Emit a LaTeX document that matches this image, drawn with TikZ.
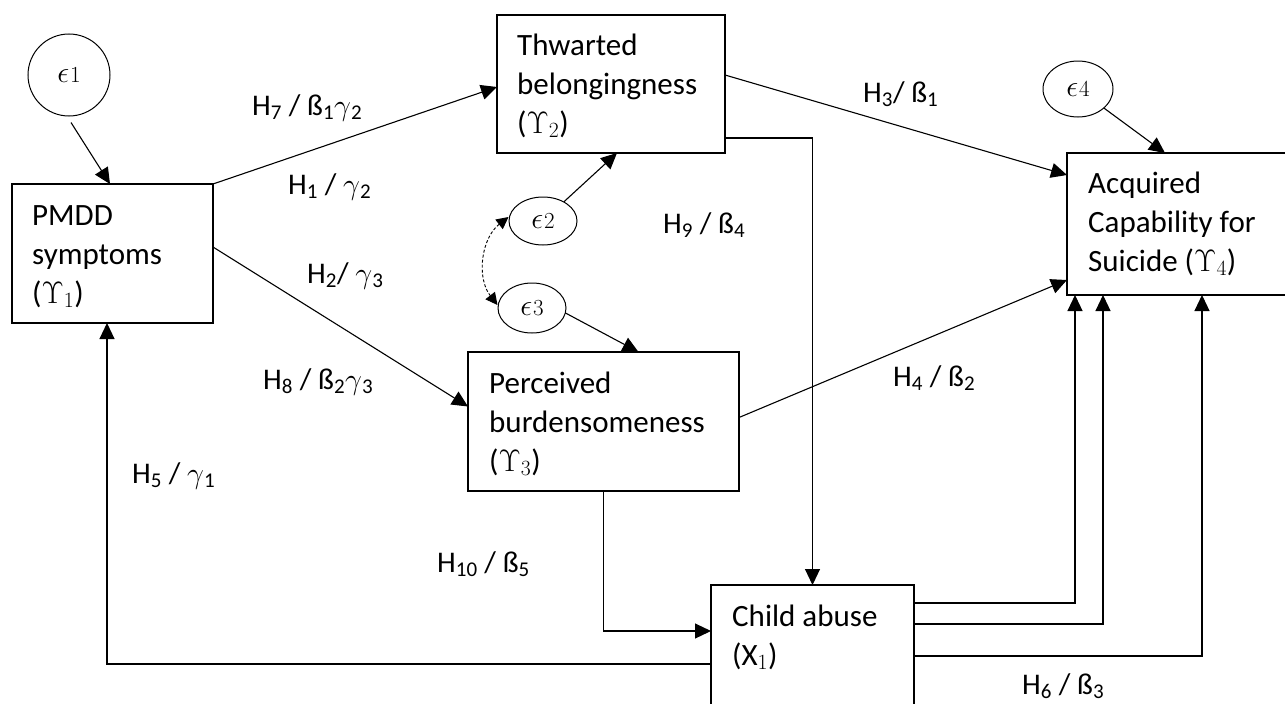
\RequirePackage{fix-cm}
\documentclass[tikz,border=0pt]{standalone}
\usepackage{fontspec}
\setmainfont{Carlito}
\usetikzlibrary{arrows.meta,calc,shapes.geometric}
\tikzset{
  box/.style={draw, line width=1.3pt, rectangle, inner sep=0pt, outer sep=0pt},
  boxtxt/.style={anchor=north west, inner sep=0pt, align=left, font=\fontsize{31}{39}\selectfont},
  lbl/.style={anchor=base west, inner sep=0pt, font=\fontsize{30}{34}\selectfont},
  errc/.style={draw, line width=1pt, circle, inner sep=0pt, minimum size=82pt, font=\fontsize{30}{34}\selectfont},
  erre/.style={draw, line width=1pt, ellipse, inner sep=0pt, font=\fontsize{30}{34}\selectfont},
  conn/.style={line width=1.1pt, -{Triangle[length=16pt,width=15pt]}},
  dconn/.style={line width=0.9pt, dash pattern=on 3pt off 2pt, {Triangle[length=12pt,width=12pt]}-{Triangle[length=12pt,width=12pt]}},
}
\newcommand{\eps}[1]{$\epsilon$\kern1pt{\fontsize{23}{23}\selectfont$#1$}}
\begin{document}
\begin{tikzpicture}[x=1pt,y=-1pt]
\useasboundingbox (0,0) rectangle (1285,704);
\fill[white] (0,0) rectangle (1285,704);
\clip (0,0) rectangle (1285,704);

% boxes
\node[box, minimum width=201pt, minimum height=139pt] (pmdd) at (112.5,253.5) {};
\node[box, minimum width=228pt, minimum height=138pt] (thw) at (611,84) {};
\node[box, minimum width=271pt, minimum height=139pt] (per) at (603.5,421.5) {};
\node[box, minimum width=233pt, minimum height=142pt] (acs) at (1183.5,224) {};
\node[box, minimum width=203pt, minimum height=160pt] (abuse) at (812.5,665) {};

% box texts
\node[boxtxt] (pmddT) at ([shift={(20,13.7)}]pmdd.north west) {\strut PMDD\\symptoms\\($\Upsilon_1$)};
\node[boxtxt] (thwT) at ([shift={(20,12.7)}]thw.north west) {\strut Thwarted\\belongingness\\($\Upsilon_2$)};
\node[boxtxt] (perT) at ([shift={(21,13.7)}]per.north west) {\strut Perceived\\burdensomeness\\($\Upsilon_3$)};
\node[boxtxt] (acsT) at ([shift={(21,12.7)}]acs.north west) {\strut Acquired\\Capability for\\Suicide ($\Upsilon_4$)};
\node[boxtxt] (abuseT) at ([shift={(21,13.7)}]abuse.north west) {\strut Child abuse\\($\mathrm{X}_1$)};

% error terms
\node[errc] (e1) at (69,75) {\eps{1}};
\node[erre, minimum width=68pt, minimum height=48pt] (e2) at (543,221) {\eps{2}};
\node[erre, minimum width=68pt, minimum height=50pt] (e3) at (532,308) {\eps{3}};
\node[erre, minimum width=70pt, minimum height=56pt] (e4) at (1078,89) {\eps{4}};

% labels
\node[lbl] (l7) at (252,115) {H\textsubscript{7} / ß\textsubscript{1}$\gamma$\textsubscript{2}};
\node[lbl] (l1) at (288,194) {H\textsubscript{1} / $\gamma$\textsubscript{2}};
\node[lbl] (l2) at (307,283) {H\textsubscript{2}/ $\gamma$\textsubscript{3}};
\node[lbl] (l3) at (863,102) {H\textsubscript{3}/ ß\textsubscript{1}};
\node[lbl] (l9) at (663,233) {H\textsubscript{9} / ß\textsubscript{4}};
\node[lbl] (l8) at (263,389) {H\textsubscript{8} / ß\textsubscript{2}$\gamma$\textsubscript{3}};
\node[lbl] (l5) at (132,483) {H\textsubscript{5} / $\gamma$\textsubscript{1}};
\node[lbl] (l10) at (437,572) {H\textsubscript{10} / ß\textsubscript{5}};
\node[lbl] (l4) at (893,386) {H\textsubscript{4} / ß\textsubscript{2}};
\node[lbl] (l6) at (1022,694) {H\textsubscript{6} / ß\textsubscript{3}};

% connectors
\draw[conn] ([shift={(2,6)}]e1.south) -- ([shift={(-2.5,0)}]pmdd.north);
\draw[conn] (pmdd.north east) -- ([shift={(0,3)}]thw.west);
\draw[conn] ([shift={(0,-6.5)}]pmdd.east) -- ([shift={(0,-15)}]per.west);
\draw[conn] ([shift={(0,-9)}]thw.east) -- ([shift={(0,22)}]acs.north west);
\draw[conn] (e2) -- ([shift={(6,0)}]thw.south);
\draw[conn] ([shift={(-1,5)}]e3.east) -- ([shift={(35,0)}]per.north);
\draw[dconn] ([shift={(0,-4)}]e2.west) to[bend right=45] ([shift={(0,-3)}]e3.west);
\draw[conn] ([shift={(0,-4)}]per.east) -- ([shift={(0,127)}]acs.north west);
\draw[conn] ([shift={(0,54)}]thw.east) -| (abuse.north);
\draw[conn] (per.south) |- ([shift={(0,46)}]abuse.north west);
\draw[conn] ([shift={(0,79)}]abuse.north west) -| ([shift={(-5.5,0)}]pmdd.south);
\draw[conn] ([shift={(0,18)}]abuse.north east) -| ([shift={(8,0)}]acs.south west);
\draw[conn] ([shift={(0,39)}]abuse.north east) -| ([shift={(36,0)}]acs.south west);
\draw[conn] ([shift={(0,71)}]abuse.north east) -| ([shift={(135,0)}]acs.south west);
\draw[conn] (e4) -- ([shift={(98,0)}]acs.north west);
\end{tikzpicture}
\end{document}
